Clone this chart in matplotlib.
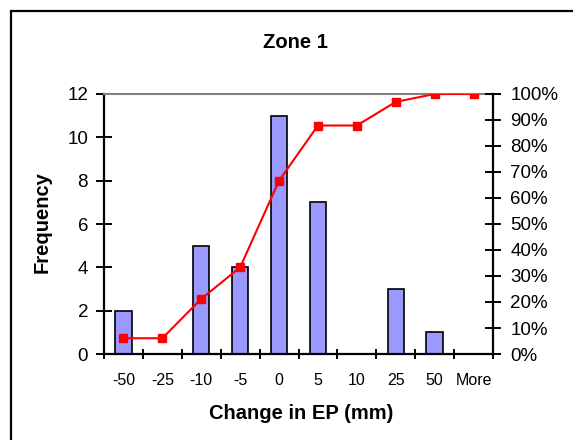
import numpy as np
import matplotlib.pyplot as plt
from matplotlib.patches import Rectangle
from matplotlib.ticker import FuncFormatter

plt.rcParams['font.family'] = ['Liberation Sans', 'DejaVu Sans']

bins = ['-50', '-25', '-10', '-5', '0', '5', '10', '25', '50', 'More']
freq = [2, 0, 5, 4, 11, 7, 0, 3, 1, 0]
cum_pct = np.cumsum(freq) / np.sum(freq)

fig = plt.figure(figsize=(5.73, 4.40), dpi=100)
ax = fig.add_axes([104/573, 1 - 354/440, 389/573, 260/440])

x = np.arange(len(bins))
ax.bar(x, freq, 0.42, color='#9999FF', edgecolor='black', linewidth=1.2, zorder=2)
ax.set_xlim(-0.5, len(bins) - 0.5)
ax.set_ylim(0, 12)
ax.set_yticks(np.arange(0, 13, 2))
ax.set_xticks(x)
ax.set_xticklabels(bins, fontsize=11.5)
ax.set_xticks(np.arange(-0.5, len(bins)), minor=True)
ax.tick_params(axis='x', which='major', length=0, pad=14)
ax.tick_params(axis='x', which='minor', direction='inout', length=7, width=1.4)
ax.tick_params(axis='y', direction='inout', length=11, width=1.4, pad=6, labelsize=13.5)

for s in ['left', 'bottom']:
    ax.spines[s].set_linewidth(1.6)
ax.spines['top'].set_color('#808080')
ax.spines['top'].set_linewidth(1.5)
ax.spines['right'].set_visible(False)

ax.set_xlabel('Change in EP (mm)', fontsize=14.5, fontweight='bold', va='center')
ax.xaxis.set_label_coords(0.506, -0.227)
ax.set_ylabel('Frequency', fontsize=14.5, fontweight='bold', va='center')
ax.yaxis.set_label_coords(-0.159, 0.508)

ax2 = ax.twinx()
ax2.plot(x, cum_pct, color='red', linewidth=1.5, marker='s', markersize=5.5,
         markerfacecolor='red', markeredgecolor='red', zorder=3)
ax2.set_ylim(0, 1)
ax2.set_yticks(np.arange(0, 1.01, 0.1))
ax2.yaxis.set_major_formatter(FuncFormatter(lambda v, p: f'{v*100:.0f}%'))
ax2.tick_params(axis='y', direction='inout', length=11, width=1.4, pad=7, labelsize=13.5)
for s in ['left', 'top', 'bottom']:
    ax2.spines[s].set_visible(False)
ax2.spines['right'].set_linewidth(1.6)

fig.text(0.515, 1 - 42/440, 'Zone 1', fontsize=14.5, fontweight='bold',
         ha='center', va='center')

fig.patches.append(Rectangle((10.5/573, -0.05), 1.0, 1 - 11/440 + 0.05,
                             transform=fig.transFigure, fill=False,
                             edgecolor='black', linewidth=1.6))

fig.savefig('out.png', dpi=100)
